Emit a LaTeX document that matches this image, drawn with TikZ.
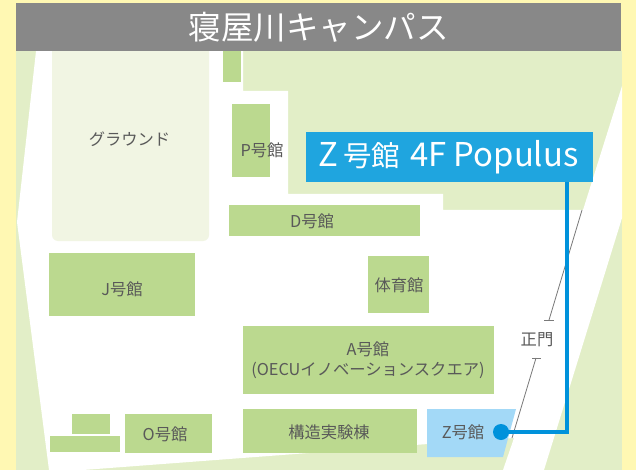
\documentclass[tikz,border=0pt]{standalone}
\usepackage{fontspec}
\setmainfont{Noto Sans CJK JP}
\definecolor{yellowbg}{HTML}{FFF8B3}
\definecolor{lightgreen}{HTML}{E2EEC7}
\definecolor{groundc}{HTML}{F1F5E3}
\definecolor{bldgc}{HTML}{BBD98F}
\definecolor{titlec}{HTML}{888888}
\definecolor{labelc}{HTML}{1FA5DF}
\definecolor{linec}{HTML}{0092DB}
\definecolor{zc}{HTML}{A3D9F7}
\definecolor{textc}{HTML}{595959}
\definecolor{wallc}{HTML}{7A7A7A}
\tikzset{
  bldg/.style={fill=bldgc,draw=none},
  maplabel/.style={text=textc,font=\fontsize{16.3}{19}\selectfont,inner sep=0pt,align=center},
  wall/.style={draw=wallc,line width=0.8pt}
}
\begin{document}
\begin{tikzpicture}[x=1pt,y=-1pt]
\useasboundingbox (0,0) rectangle (636,470);
\fill[yellowbg] (0,0) rectangle (636,470);
\fill[lightgreen] (16,51) rectangle (622,470);
% roads
\fill[white] (36,51) -- (243,51) -- (243,91) -- (288,91) -- (288,194) -- (443,194) -- (443,210)
  -- (583,210) -- (622,86) -- (622,218) -- (544,470) -- (503,470) -- (514,438) -- (428,444)
  -- (83,470) -- (49,470) -- (17,222) -- cycle;
% ground
\fill[groundc,rounded corners=6pt] (52,40) rectangle (209,241);
% buildings
\fill[bldg] (223,51) rectangle (241,82);
\fill[bldg] (232,104) rectangle (270,177);
\fill[bldg] (229,205) rectangle (420,236);
\fill[bldg] (49,253) rectangle (195,316);
\fill[bldg] (368,256) rectangle (429,313);
\fill[bldg] (243,326) rectangle (494,394);
\fill[bldg] (243,409) rectangle (417,453);
\fill[bldg] (125,414) rectangle (212,453);
\fill[bldg] (72,414) rectangle (110,434);
\fill[bldg] (50,436) rectangle (120,452);
\fill[zc] (427,409) -- (516,409) -- (503,457) -- (427,457) -- cycle;
% title
\node[fill=titlec,minimum width=605pt,minimum height=48pt,inner sep=0pt,text=white,
  font=\fontsize{32.5}{36}\selectfont] (title) at (318.5,27) {寝屋川キャンパス};
% labels
\node[maplabel] (ground) at (129.5,139.5) {グラウンド};
\node[maplabel] (P) at (262,150.5) {P号館};
\node[maplabel] (D) at (312,221.5) {D号館};
\node[maplabel] (J) at (122,289.5) {J号館};
\node[maplabel] (gym) at (399,285.5) {体育館};
\node[maplabel,text width=250pt] (A) at (368,360.5) {A号館\\[1pt](OECUイノベーションスクエア)};
\node[maplabel] (kozo) at (329,432.5) {構造実験棟};
\node[maplabel] (O) at (165,434.5) {O号館};
\node[maplabel] (Z) at (463,432.5) {Z号館};
\node[maplabel] (gate) at (537,339.5) {正門};
% walls
\coordinate (w1) at (582,210);
\coordinate (w2) at (549,320);
\coordinate (w3) at (536,358);
\coordinate (w4) at (512,438);
\coordinate (t1a) at (544,320);
\coordinate (t1b) at (554,320);
\coordinate (t2a) at (532,358);
\coordinate (t2b) at (541,358);
\draw[wall] (w1) -- (w2);
\draw[wall] (t1a) -- (t1b);
\draw[wall] (w3) -- (w4);
\draw[wall] (t2a) -- (t2b);
% callout
\node[fill=labelc,minimum width=287pt,minimum height=50pt,inner sep=0pt,text=white,
  font=\fontsize{32.8}{36}\selectfont] (box) at (449.5,157) {\hspace{-2pt}Z\hspace{5pt}{\fontsize{28.5}{32}\selectfont 号館}\hspace{10pt}4F Populus};
\fill[linec] (501,432) circle (8pt);
\coordinate (dot) at (501,432);
\coordinate (elbow) at (567,432);
\draw[linec,line width=4pt,line join=miter] (box.south -| elbow) -- (elbow) -- (dot);
\end{tikzpicture}
\end{document}
